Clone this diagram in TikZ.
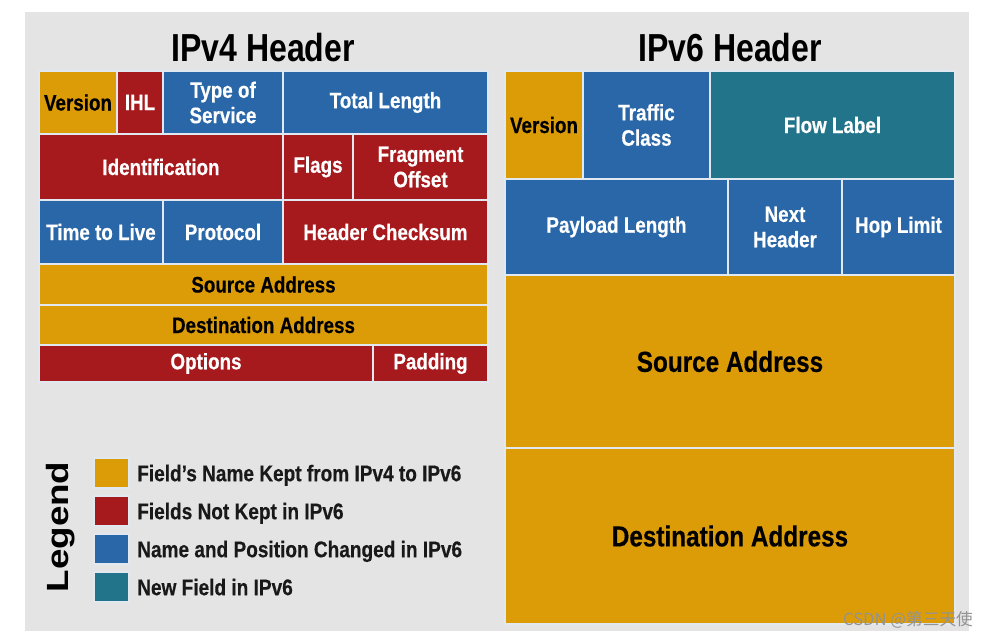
\documentclass[tikz,border=0pt]{standalone}
\usepackage{fontspec}
\usepackage{xcolor}
\usetikzlibrary{positioning}
\newfontfamily\cellfont{Liberation Sans}[FakeStretch=0.84, FakeBold=0.4]
\newfontfamily\titlefont{Liberation Sans}[FakeStretch=0.82]
\newfontfamily\legendfont{Liberation Sans}[FakeStretch=1.2]
\newfontfamily\markfont{Noto Sans CJK SC}
\definecolor{keptc}{HTML}{DB9C08}
\definecolor{gonec}{HTML}{A6191C}
\definecolor{movedc}{HTML}{2A67A8}
\definecolor{newc}{HTML}{22748A}
\definecolor{panelc}{HTML}{E4E4E4}
\definecolor{sepc}{HTML}{E2E8F0}
\begin{document}
\begin{tikzpicture}[
    x=0.75pt, y=-0.75pt,
    node distance=6pt,
    box/.style 2 args={minimum width=#1*0.75pt, minimum height=#2*0.75pt},
    fld/.style={draw=sepc, line width=1.1pt, inner sep=0pt, outer sep=0pt,
        anchor=north west, align=center, text=white,
        font=\cellfont\bfseries\fontsize{16.8}{19}\selectfont},
    kept/.style={fld, fill=keptc, text=black},
    gone/.style={fld, fill=gonec},
    moved/.style={fld, fill=movedc},
    newf/.style={fld, fill=newc},
    bigfld/.style={font=\cellfont\bfseries\fontsize{21.7}{26}\selectfont},
    hdrtitle/.style={font=\titlefont\bfseries\fontsize{29.3}{34}\selectfont},
    legtitle/.style={font=\legendfont\bfseries\fontsize{23}{27}\selectfont, rotate=90},
    leglbl/.style={inner sep=0pt, text depth=0pt, text=black!90,
        font=\cellfont\bfseries\fontsize{17}{20}\selectfont},
    wmark/.style={font=\markfont\fontsize{12.5}{15}\selectfont, text=gray!85}
]
\fill[white] (0,0) rectangle (993,638);
\useasboundingbox (0,0) rectangle (993,638);
\fill[panelc] (25,12) rectangle (969,631);

% IPv4 header
\node[hdrtitle] (v4title) at (263,48) {IPv4 Header};
\node[kept, box={78}{63}] (v4ver) at (39,71) {Version};
\node[gone, box={46}{63}, right=0pt of v4ver] (v4ihl) {IHL};
\node[moved, box={120}{63}, right=0pt of v4ihl] (v4tos) {Type of\\Service};
\node[moved, box={205}{63}, right=0pt of v4tos] (v4len) {Total Length};
\node[gone, box={244}{66}] (v4id) at (39,134) {Identification};
\node[gone, box={70}{66}, right=0pt of v4id] (v4flags) {Flags};
\node[gone, box={135}{66}, right=0pt of v4flags] (v4frag) {Fragment\\Offset};
\node[moved, box={124}{64}] (v4ttl) at (39,200) {Time to Live};
\node[moved, box={120}{64}, right=0pt of v4ttl] (v4proto) {Protocol};
\node[gone, box={205}{64}, right=0pt of v4proto] (v4sum) {Header Checksum};
\node[kept, box={449}{41}] (v4src) at (39,264) {Source Address};
\node[kept, box={449}{40}] (v4dst) at (39,305) {Destination Address};
\node[gone, box={334}{37}] (v4opt) at (39,345) {Options};
\node[gone, box={115}{37}, right=0pt of v4opt] (v4pad) {Padding};

% IPv6 header
\node[hdrtitle] (v6title) at (730,48) {IPv6 Header};
\node[kept, box={78}{108}] (v6ver) at (505,71) {Version};
\node[moved, box={127}{108}, right=0pt of v6ver] (v6tc) {Traffic\\Class};
\node[newf, box={245}{108}, right=0pt of v6tc] (v6flow) {Flow Label};
\node[moved, box={223}{96}] (v6pay) at (505,179) {Payload Length};
\node[moved, box={114}{96}, right=0pt of v6pay] (v6next) {Next\\Header};
\node[moved, box={113}{96}, right=0pt of v6next] (v6hop) {Hop Limit};
\node[kept, bigfld, box={450}{173}] (v6src) at (505,275) {Source Address};
\node[kept, bigfld, box={450}{176}] (v6dst) at (505,448) {Destination Address};

% legend
\node[legtitle] (legend) at (61,527) {Legend};
\node[kept, box={35}{30}] (lkept) at (94,458) {};
\node[gone, box={35}{30}, below=6pt of lkept] (lgone) {};
\node[moved, box={35}{30}, below=6pt of lgone] (lmoved) {};
\node[newf, box={35}{30}, below=6pt of lmoved] (lnew) {};
\node[leglbl, right=6pt of lkept] (tkept) {Field’s Name Kept from IPv4 to IPv6};
\node[leglbl, right=6pt of lgone] (tgone) {Fields Not Kept in IPv6};
\node[leglbl, right=6pt of lmoved] (tmoved) {Name and Position Changed in IPv6};
\node[leglbl, right=6pt of lnew] (tnew) {New Field in IPv6};

\node[wmark] (wm) at (908,620) {CSDN @第三天使};
\end{tikzpicture}
\end{document}
